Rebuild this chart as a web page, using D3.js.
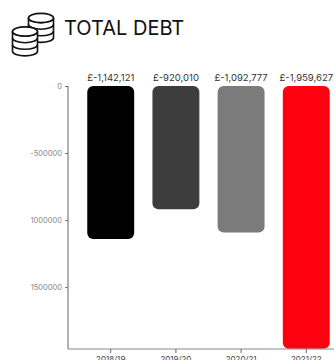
<!DOCTYPE html>
<html>
<head>
<meta charset="utf-8">
<script src="https://cdn.jsdelivr.net/npm/d3@7"></script>
<style>
html,body{margin:0;padding:0;background:#fff;overflow:hidden}
svg{display:block}
text{font-family:Inter,"Open Sans",sans-serif}
</style>
</head>
<body>
<svg id="chart" width="334" height="360"></svg>
<script>
const years = ["2018/19", "2019/20", "2020/21", "2021/22"];
const debt = [-1142121, -920010, -1092777, -1959627];
const barColors = ["#000000", "#3d3d3d", "#7b7b7b", "#ff0010"];
const tickValues = [0, -500000, -1000000, -1500000];
const tickLabels = ["0", "-500000", "1000000", "1500000"];
const titleText = "TOTAL DEBT";

const svg = d3.select("#chart");
const fmt = d3.format(",");

const x = d3.scaleBand().domain(years).range([69, 348]).paddingInner(0.28).paddingOuter(0.28);
const y = d3.scaleLinear().domain([0, -1959627]).range([86, 348.7]);

// Title and coin-stack icon
svg.append("text").attr("x", 64).attr("y", 35)
  .attr("font-size", 20).attr("fill", "#111").text(titleText);

const coinStack = (cx, top, count) => {
  const g = svg.append("g").attr("fill", "#fff").attr("stroke", "#111").attr("stroke-width", 1.6);
  const rx = 12.5, ry = 4.6, gap = 6.6;
  const h = gap * count;
  g.append("path").attr("d",
    `M${cx - rx},${top} V${top + h} A${rx},${ry} 0 0 0 ${cx + rx},${top + h} V${top}`);
  for (let i = 1; i <= count; i++) {
    g.append("path").attr("fill", "none").attr("d",
      `M${cx - rx},${top + gap * i - gap} A${rx},${ry} 0 0 0 ${cx + rx},${top + gap * i - gap}`);
  }
  g.append("ellipse").attr("cx", cx).attr("cy", top).attr("rx", rx).attr("ry", ry);
};
coinStack(41, 18, 3);
coinStack(25, 31.5, 3);

// Bars with rounded corners
svg.append("g").selectAll("rect").data(debt).join("rect")
  .attr("x", (d, i) => x(years[i]))
  .attr("y", y(0))
  .attr("width", x.bandwidth())
  .attr("height", d => y(d) - y(0))
  .attr("rx", 6)
  .attr("fill", (d, i) => barColors[i]);

// Value labels above the bars
svg.append("g").selectAll("text").data(debt).join("text")
  .attr("x", (d, i) => x(years[i]) + x.bandwidth() / 2)
  .attr("y", 81)
  .attr("text-anchor", "middle")
  .attr("font-size", 9.5)
  .attr("fill", "#333")
  .text(d => "£" + fmt(d).replace("−", "-"));

// Axes
const yAxis = d3.axisLeft(y).tickValues(tickValues)
  .tickFormat((d, i) => tickLabels[i]).tickSize(3).tickPadding(3);
const yG = svg.append("g").attr("transform", "translate(68,0)").call(yAxis);
yG.select(".domain").attr("d", "M0,86V349").attr("stroke", "#999").attr("stroke-width", 1.5);
yG.selectAll(".tick line").attr("stroke", "#777");
yG.selectAll(".tick text").attr("font-size", 7.5).attr("fill", "#888")
  .attr("font-family", "Inter,sans-serif");

const xAxis = d3.axisBottom(x).tickSize(4).tickPadding(3);
const xG = svg.append("g").attr("transform", "translate(0,349)").call(xAxis);
xG.select(".domain").attr("d", "M68,0H334").attr("stroke", "#888").attr("stroke-width", 1);
xG.selectAll(".tick line").attr("stroke", "#666");
xG.selectAll(".tick text").attr("font-size", 8).attr("fill", "#444")
  .attr("font-family", "Inter,sans-serif");
</script>
</body>
</html>
